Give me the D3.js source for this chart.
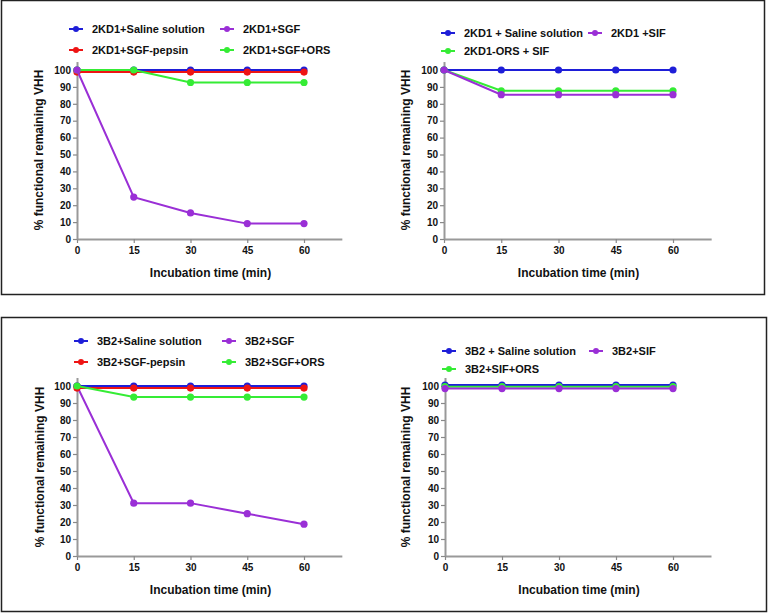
<!DOCTYPE html>
<html>
<head>
<meta charset="utf-8">
<script src="https://cdn.jsdelivr.net/npm/d3@7"></script>
<style>
  body { margin: 0; background: #fff; }
  text { font-family: "Liberation Sans", Arial, sans-serif; font-weight: bold; }
</style>
</head>
<body>
<div id="main"></div>
<script>
const ctx = { w: 768, h: 613 };

// shared values
const times = [0, 15, 30, 45, 60];
const yTicks = [0, 10, 20, 30, 40, 50, 60, 70, 80, 90, 100];
const xTitle = "Incubation time (min)";
const yTitle = "% functional remaining VHH";

// panel A: 2KD1 in SGF
const aNames = ["2KD1+Saline solution", "2KD1+SGF-pepsin", "2KD1+SGF+ORS", "2KD1+SGF"];
const aSaline = [100, 100, 100, 100, 100];
const aPepsin = [98.8, 98.8, 98.8, 98.8, 98.8];
const aOrs = [100, 100, 92.6, 92.6, 92.6];
const aSgf = [100, 24.8, 15.4, 9.1, 9.1];

// panel B: 2KD1 in SIF
const bNames = ["2KD1 + Saline solution", "2KD1-ORS + SIF", "2KD1 +SIF"];
const bSaline = [100, 100, 100, 100, 100];
const bOrs = [100, 87.7, 87.7, 87.7, 87.7];
const bSif = [100, 85.4, 85.4, 85.4, 85.4];

// panel C: 3B2 in SGF
const cNames = ["3B2+Saline solution", "3B2+SGF", "3B2+SGF-pepsin", "3B2+SGF+ORS"];
const cSaline = [100, 100, 100, 100, 100];
const cSgf = [100, 31.1, 31.1, 24.9, 18.7];
const cPepsin = [98.8, 98.8, 98.8, 98.8, 98.8];
const cOrs = [100, 93.5, 93.5, 93.5, 93.5];

// panel D: 3B2 in SIF
const dNames = ["3B2 + Saline solution", "3B2+SIF+ORS", "3B2+SIF"];
const dSaline = [100.6, 100.6, 100.6, 100.6, 100.6];
const dOrs = [99.6, 99.6, 99.6, 99.6, 99.6];
const dSif = [98.5, 98.5, 98.5, 98.5, 98.5];

const colors = { blue: "#1e1ed8", red: "#ee1414", green: "#35ec35", purple: "#9a2fd6" };

// series listed in draw order; leg = [column, row] in the legend
const panels = [
  { x0: 77, x60: 304, y0: 239, y100: 70, ytx: 39, legX: [69, 220], legY: [29, 50],
    series: [
      { name: aNames[0], vals: aSaline, color: colors.blue, leg: [0, 0] },
      { name: aNames[1], vals: aPepsin, color: colors.red, leg: [0, 1] },
      { name: aNames[2], vals: aOrs, color: colors.green, leg: [1, 1] },
      { name: aNames[3], vals: aSgf, color: colors.purple, leg: [1, 0] }
    ] },
  { x0: 444, x60: 673, y0: 239, y100: 70, ytx: 406, legX: [441, 588], legY: [33, 51],
    series: [
      { name: bNames[0], vals: bSaline, color: colors.blue, leg: [0, 0] },
      { name: bNames[1], vals: bOrs, color: colors.green, leg: [0, 1] },
      { name: bNames[2], vals: bSif, color: colors.purple, leg: [1, 0] }
    ] },
  { x0: 77, x60: 304, y0: 556, y100: 386, ytx: 40, legX: [74, 222], legY: [341, 362],
    series: [
      { name: cNames[0], vals: cSaline, color: colors.blue, leg: [0, 0] },
      { name: cNames[1], vals: cSgf, color: colors.purple, leg: [1, 0] },
      { name: cNames[2], vals: cPepsin, color: colors.red, leg: [0, 1] },
      { name: cNames[3], vals: cOrs, color: colors.green, leg: [1, 1] }
    ] },
  { x0: 445, x60: 673, y0: 556, y100: 386, ytx: 406, legX: [442, 589], legY: [351, 369],
    series: [
      { name: dNames[0], vals: dSaline, color: colors.blue, leg: [0, 0] },
      { name: dNames[1], vals: dOrs, color: colors.green, leg: [0, 1] },
      { name: dNames[2], vals: dSif, color: colors.purple, leg: [1, 0] }
    ] }
];

const svg = d3.select("#main").append("svg")
  .attr("width", ctx.w).attr("height", ctx.h);

// outer frames
svg.append("rect").attr("x", 1.5).attr("y", 0.5).attr("width", 763).attr("height", 294)
  .attr("fill", "none").attr("stroke", "#222").attr("stroke-width", 1.5);
svg.append("rect").attr("x", 1.5).attr("y", 317.5).attr("width", 765).attr("height", 294)
  .attr("fill", "none").attr("stroke", "#222").attr("stroke-width", 1.5);

function drawPanel(p) {
  const g = svg.append("g");
  const pxPerX = (p.x60 - p.x0) / 60;
  const pxPerY = (p.y0 - p.y100) / 100;
  const x = d3.scaleLinear().domain([0, 70]).range([p.x0, p.x0 + 70 * pxPerX]);
  const y = d3.scaleLinear().domain([0, 105]).range([p.y0, p.y0 - 105 * pxPerY]);

  // axes
  const xa = g.append("g").attr("transform", `translate(0,${p.y0})`)
    .call(d3.axisBottom(x).tickValues(times).tickSize(4).tickPadding(4).tickSizeOuter(0));
  const ya = g.append("g").attr("transform", `translate(${p.x0},0)`)
    .call(d3.axisLeft(y).tickValues(yTicks).tickSize(4).tickPadding(2).tickSizeOuter(0));
  [xa, ya].forEach(a => {
    a.select(".domain").attr("stroke", "#999").attr("stroke-width", 2);
    a.selectAll(".tick line").attr("stroke", "#888").attr("stroke-width", 1.2);
    a.selectAll("text").attr("fill", "#111").style("font-size", "10px")
      .style("font-family", "'Liberation Sans', Arial, sans-serif").style("font-weight", "bold");
  });

  // titles
  g.append("text").attr("x", (p.x0 + p.x60) / 2 + 20).attr("y", p.y0 + 38)
    .attr("text-anchor", "middle").style("font-size", "12px").attr("fill", "#111").text(xTitle);
  g.append("text").attr("transform", `translate(${p.ytx},${p.y0 - 89}) rotate(-90)`)
    .attr("text-anchor", "middle").attr("dy", "0.35em").style("font-size", "12px")
    .attr("fill", "#111").text(yTitle);

  // lines and markers
  const line = d3.line().x((d, i) => x(times[i])).y(d => y(d));
  p.series.forEach(s => {
    g.append("path").datum(s.vals).attr("d", line)
      .attr("fill", "none").attr("stroke", s.color).attr("stroke-width", 2);
    g.selectAll(null).data(s.vals).enter().append("circle")
      .attr("cx", (d, i) => x(times[i])).attr("cy", d => y(d))
      .attr("r", 3.6).attr("fill", s.color);
  });

  // legend
  p.series.forEach(s => {
    const lx = p.legX[s.leg[0]], ly = p.legY[s.leg[1]];
    g.append("line").attr("x1", lx).attr("x2", lx + 14).attr("y1", ly).attr("y2", ly)
      .attr("stroke", s.color).attr("stroke-width", 2);
    g.append("circle").attr("cx", lx + 7).attr("cy", ly).attr("r", 3).attr("fill", s.color);
    g.append("text").attr("x", lx + 23).attr("y", ly + 4).style("font-size", "11px")
      .attr("fill", "#111").text(s.name);
  });
}

panels.forEach(drawPanel);
</script>
</body>
</html>
